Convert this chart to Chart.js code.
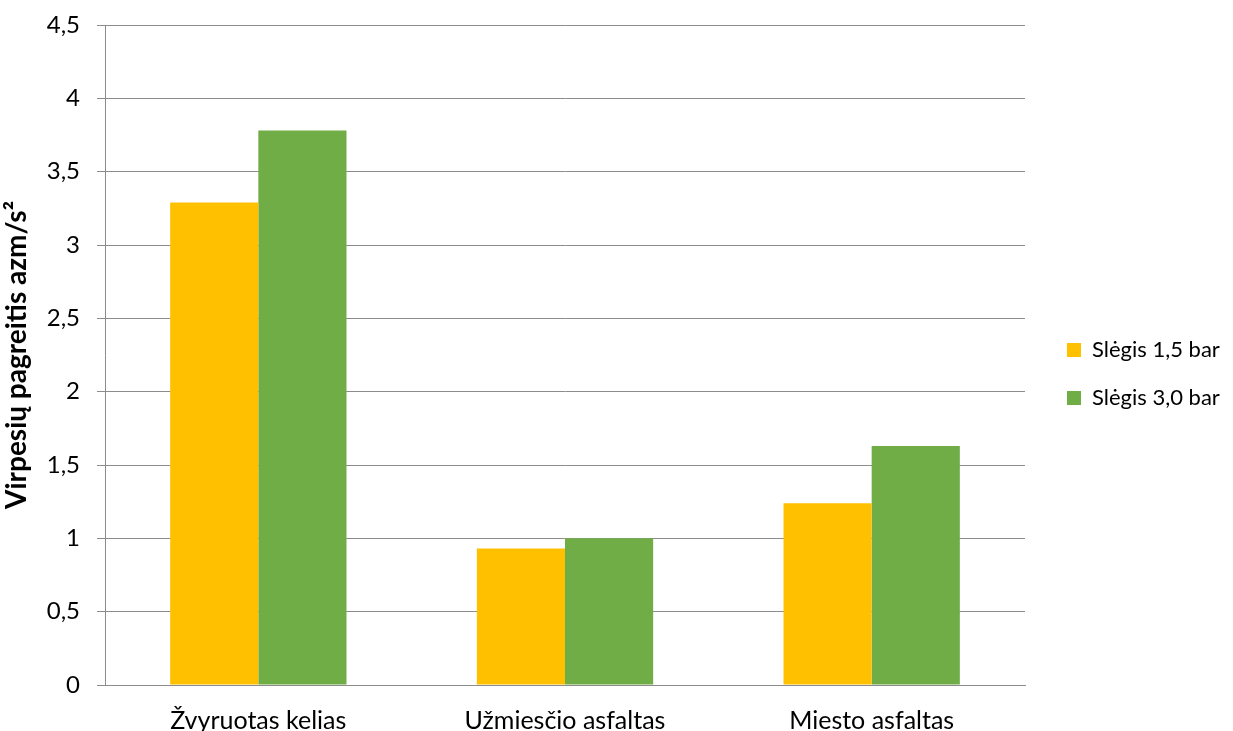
<!DOCTYPE html>
<html lang="lt">
<head>
<meta charset="utf-8">
<title>Virpesių pagreitis</title>
<script src="https://cdn.jsdelivr.net/npm/chart.js@4/dist/chart.umd.min.js"></script>
<style>
    html, body { margin: 0; padding: 0; background: #fff; }
    #wrap { width: 1233px; height: 731px; position: relative; }
</style>
</head>
<body>
<div id="wrap"><canvas id="vibration-chart"></canvas></div>
<script>
// road surfaces and measured acceleration per tyre pressure
const surfaces = ["Žvyruotas kelias", "Užmiesčio asfaltas", "Miesto asfaltas"];
const pressure15 = [3.29, 0.93, 1.24];
const pressure30 = [3.78, 1.0, 1.63];
const serieslabels = ["Slėgis 1,5 bar", "Slėgis 3,0 bar"];
const yticks = [0, 0.5, 1, 1.5, 2, 2.5, 3, 3.5, 4, 4.5];

const gridcolor = "#8c8c8c";

Chart.defaults.font.family = "Lato, 'Open Sans', sans-serif";
Chart.defaults.font.size = 23;
Chart.defaults.color = "#000";

// nudge the legend into place after layout has run
const legendoffset = {
    id: "legendoffset",
    afterLayout(chart) {
        const lg = chart.legend;
        if (!lg) return;
        lg.left += 16;
        lg.right += 16;
        lg.top -= 4;
        lg.bottom -= 4;
    },
};

const ctx = document.getElementById("vibration-chart").getContext("2d");

new Chart(ctx, {
    type: "bar",
    data: {
        labels: surfaces,
        datasets: [
            {
                label: serieslabels[0],
                data: pressure15,
                backgroundColor: "#FFC000",
                borderWidth: 0,
            },
            {
                label: serieslabels[1],
                data: pressure30,
                backgroundColor: "#70AD47",
                borderWidth: 0,
            },
        ],
    },
    options: {
        responsive: true,
        maintainAspectRatio: false,
        animation: false,
        layout: {
            padding: { left: 0, right: 28, top: 25, bottom: 0 },
        },
        datasets: {
            bar: {
                categoryPercentage: 0.575,
                barPercentage: 1,
            },
        },
        plugins: {
            legend: {
                position: "right",
                maxWidth: 180,
                labels: {
                    boxWidth: 14,
                    boxHeight: 14,
                    padding: 26,
                    font: { size: 22 },
                },
            },
            tooltip: { enabled: false },
        },
        scales: {
            x: {
                grid: { display: false },
                border: { color: gridcolor, width: 1 },
                ticks: { padding: 13, maxRotation: 0, font: { size: 25 } },
                afterFit(scale) {
                    scale.height = 46;
                },
            },
            y: {
                min: 0,
                max: 4.5,
                afterBuildTicks(scale) {
                    scale.ticks = yticks.map((v) => ({ value: v }));
                },
                grid: {
                    color: gridcolor,
                    tickLength: 8,
                },
                border: { color: gridcolor, width: 1 },
                ticks: {
                    padding: 17,
                    font: { size: 24 },
                    callback: (value) => String(value).replace(".", ","),
                },
                title: {
                    display: true,
                    text: "Virpesių pagreitis aᴢm/s²",
                    font: { size: 28, weight: "bold" },
                    padding: { top: 0, bottom: 0 },
                },
                afterFit(scale) {
                    // fixed axis width; top/bottom room comes from layout padding
                    scale.width = 105;
                    scale.paddingTop = 0;
                    scale.paddingBottom = 0;
                },
            },
        },
    },
    plugins: [legendoffset],
});
</script>
</body>
</html>
